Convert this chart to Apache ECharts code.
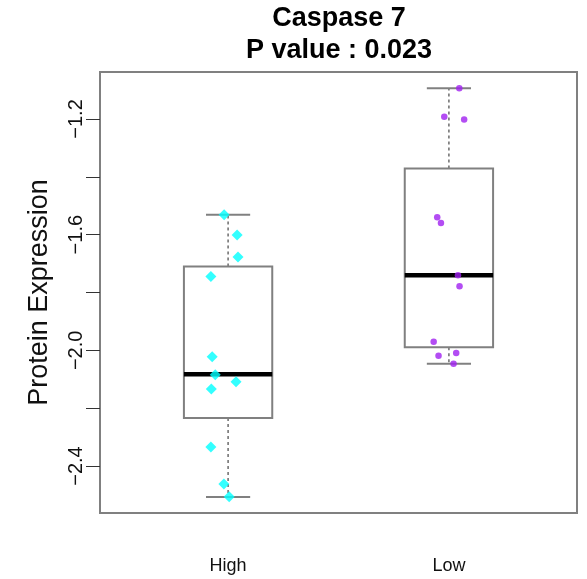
<!DOCTYPE html>
<html>
<head>
<meta charset="utf-8">
<script src="https://cdn.jsdelivr.net/npm/echarts@6/dist/echarts.min.js"></script>
<style>
    html, body {margin: 0; padding: 0; background: #fff;}
    #chart {width: 587px; height: 579px;}
</style>
</head>
<body>
<div id="chart"></div>
<script>
    // groups on the x axis (positions 1 and 2)
    var groups = ['High', 'Low'];
    var groupPos = [1, 2];

    // box stats: low whisker, Q1, median, Q3, high whisker
    var boxHigh = [-2.507, -2.234, -2.083, -1.710, -1.531];
    var boxLow = [-2.046, -1.989, -1.740, -1.371, -1.094];

    // jittered points [x, value]
    var pointsHigh = [
        [0.982, -1.531], [1.041, -1.601], [1.045, -1.677], [0.922, -1.745],
        [0.928, -2.022], [0.942, -2.084], [1.036, -2.109], [0.924, -2.134],
        [0.922, -2.334], [0.981, -2.462], [1.005, -2.506]
    ];
    var pointsLow = [
        [2.047, -1.094], [1.979, -1.192], [2.069, -1.202], [1.947, -1.540],
        [1.964, -1.560], [2.041, -1.740], [2.048, -1.778], [1.931, -1.970],
        [2.033, -2.009], [1.953, -2.019], [2.021, -2.046]
    ];

    var yTicks = [-2.4, -2.2, -2.0, -1.8, -1.6, -1.4, -1.2];
    var yLabels = [-2.4, -2.0, -1.6, -1.2];

    var boxData = [
        [groupPos[0]].concat(boxHigh),
        [groupPos[1]].concat(boxLow)
    ];

    var renderBox = function (params, api) {
        var x = api.value(0);
        var low = api.value(1), q1 = api.value(2), med = api.value(3), q3 = api.value(4), high = api.value(5);
        var c = function (xx, yy) { return api.coord([xx, yy]); };
        var bl = c(x - 0.2, q3), br = c(x + 0.2, q1);
        var whisker = {stroke: '#555', lineWidth: 1.3, lineDash: [3, 3]};
        var cap = {stroke: '#808080', lineWidth: 2};
        return {
            type: 'group',
            children: [
                {type: 'line', shape: {x1: c(x, q3)[0], y1: c(x, q3)[1], x2: c(x, high)[0], y2: c(x, high)[1]}, style: whisker},
                {type: 'line', shape: {x1: c(x, q1)[0], y1: c(x, q1)[1], x2: c(x, low)[0], y2: c(x, low)[1]}, style: whisker},
                {type: 'line', shape: {x1: c(x - 0.1, high)[0], y1: c(x, high)[1], x2: c(x + 0.1, high)[0], y2: c(x, high)[1]}, style: cap},
                {type: 'line', shape: {x1: c(x - 0.1, low)[0], y1: c(x, low)[1], x2: c(x + 0.1, low)[0], y2: c(x, low)[1]}, style: cap},
                {type: 'rect', shape: {x: bl[0], y: bl[1], width: br[0] - bl[0], height: br[1] - bl[1]},
                    style: {fill: '#fff', stroke: '#808080', lineWidth: 2}},
                {type: 'line', shape: {x1: bl[0], y1: c(x, med)[1], x2: br[0], y2: c(x, med)[1]},
                    style: {stroke: '#000', lineWidth: 4.5}}
            ]
        };
    };

    var fmt = function (v) {
        return (v < 0 ? '\u2212' : '') + Math.abs(v).toFixed(1);
    };

    var chart = echarts.init(document.getElementById('chart'));
    chart.setOption({
        animation: false,
        textStyle: {fontFamily: '"Liberation Sans", Arial, sans-serif'},
        graphic: [{
            type: 'text',
            x: 339,
            y: 35,
            style: {
                text: 'Caspase 7\nP value : 0.023',
                font: 'bold 27px "Liberation Sans", Arial, sans-serif',
                fill: '#000',
                align: 'center',
                verticalAlign: 'middle',
                lineHeight: 32
            }
        }],
        grid: {
            left: 100, right: 10, top: 72, bottom: 66,
            show: true, borderColor: '#808080', borderWidth: 2, backgroundColor: 'transparent'
        },
        xAxis: {
            type: 'value',
            min: 0.42,
            max: 2.58,
            splitLine: {show: false},
            axisLine: {show: false},
            axisTick: {show: false},
            axisLabel: {
                customValues: groupPos,
                formatter: function (v) { return groups[Math.round(v) - 1]; },
                margin: 44,
                fontSize: 18,
                color: '#111'
            }
        },
        yAxis: {
            type: 'value',
            min: -2.5625,
            max: -1.0375,
            name: 'Protein Expression',
            nameLocation: 'middle',
            nameGap: 47,
            nameTextStyle: {fontSize: 27, color: '#111'},
            splitLine: {show: false},
            axisLine: {show: false},
            axisTick: {show: true, customValues: yTicks, length: 14, lineStyle: {color: '#333', width: 1}},
            axisLabel: {
                customValues: yLabels,
                formatter: fmt,
                rotate: 90,
                margin: 14,
                fontSize: 20,
                color: '#111'
            }
        },
        series: [{
            type: 'custom',
            renderItem: renderBox,
            data: boxData,
            encode: {x: 0, y: [1, 2, 3, 4, 5]},
            z: 1
        }, {
            type: 'scatter',
            name: 'High',
            data: pointsHigh,
            symbol: 'diamond',
            symbolSize: 11,
            itemStyle: {color: '#00FFFF'},
            z: 5
        }, {
            type: 'scatter',
            name: 'Low',
            data: pointsLow,
            symbol: 'circle',
            symbolSize: 6.5,
            itemStyle: {color: '#A020F0'},
            z: 5
        }]
    });
</script>
</body>
</html>
